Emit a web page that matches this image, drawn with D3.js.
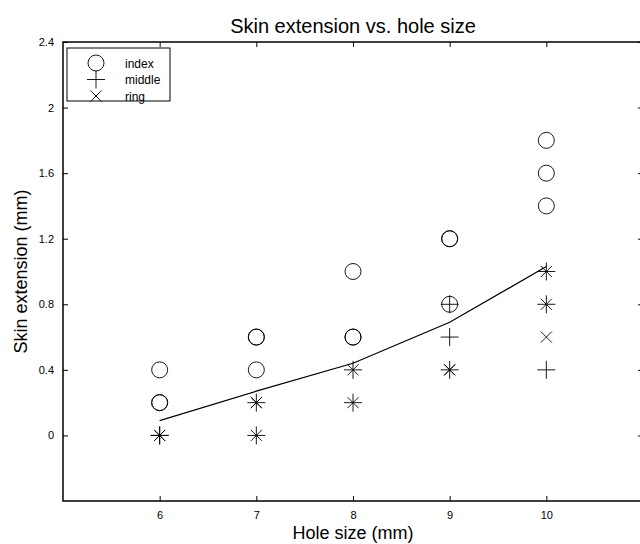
<!DOCTYPE html>
<html>
<head>
<meta charset="utf-8">
<script src="https://cdn.jsdelivr.net/npm/d3@7/dist/d3.min.js"></script>
<style>
  body { margin: 0; background: #fff; }
  svg { font-family: "Liberation Sans", Arial, sans-serif; }
</style>
</head>
<body>
<script>
// hole sizes (mm)
var holeSizes = [6, 7, 8, 9, 10];
// skin extension samples per hole size, one list per finger
var indexVals  = [[0.4, 0.2, 0.2], [0.6, 0.6, 0.4], [1.0, 0.6, 0.6], [1.2, 1.2, 0.8], [1.8, 1.6, 1.4]];
var middleVals = [[0, 0], [0.2, 0], [0.4, 0.2], [0.8, 0.6, 0.4], [1.0, 0.8, 0.4]];
var ringVals   = [[0, 0], [0.2, 0.2, 0], [0.4, 0.2], [0.4, 0.4], [1.0, 0.8, 0.6]];
// mean line
var meanVals = [0.09, 0.27, 0.44, 0.69, 1.03];
var yTicks = [0, 0.4, 0.8, 1.2, 1.6, 2, 2.4];
var legendNames = ["index", "middle", "ring"];

var width = 640, height = 544;
var margin = {top: 42, right: -3, bottom: 43, left: 63};
var plotW = width - margin.left - margin.right;
var plotH = height - margin.top - margin.bottom;

var svg = d3.select("body").append("svg")
  .attr("width", width).attr("height", height);

var g = svg.append("g")
  .attr("transform", "translate(" + margin.left + "," + margin.top + ")");

var xScale = d3.scaleLinear().domain([5, 11]).range([0, plotW]);
var yScale = d3.scaleLinear().domain([-0.4, 2.4]).range([plotH, 0]);

function plain(d) { return String(+d.toFixed(1)); }

// axes (ticks pointing inward, matlab style)
var xAxis = d3.axisBottom(xScale).tickValues(holeSizes).tickSize(-5).tickPadding(10).tickFormat(plain);
var yAxis = d3.axisLeft(yScale).tickValues(yTicks).tickSize(-5).tickPadding(9).tickFormat(plain);

g.append("g").attr("transform", "translate(0," + plotH + ")").call(xAxis);
g.append("g").call(yAxis);
g.append("g").call(d3.axisTop(xScale).tickValues(holeSizes).tickSize(-5).tickFormat(""));
g.append("g").attr("transform", "translate(" + plotW + ",0)")
  .call(d3.axisRight(yScale).tickValues(yTicks).tickSize(-5).tickFormat(""));

g.selectAll(".domain").remove();
g.selectAll(".tick line").attr("stroke", "#000").attr("stroke-width", 1);
g.selectAll(".tick text").attr("font-size", 11).attr("fill", "#000")
  .attr("font-family", "Liberation Sans, Arial, sans-serif");

g.append("rect")
  .attr("x", 0).attr("y", 0).attr("width", plotW).attr("height", plotH)
  .attr("fill", "none").attr("stroke", "#000").attr("stroke-width", 1.5);

// marker shapes
function drawMarker(sel, kind) {
  if (kind === "index") {
    sel.append("circle").attr("r", 8).attr("fill", "none");
  } else if (kind === "middle") {
    sel.append("path").attr("d", "M-9,0H9M0,-9V9").attr("fill", "none");
  } else {
    sel.append("path").attr("d", "M-5.5,-5.5L5.5,5.5M-5.5,5.5L5.5,-5.5").attr("fill", "none");
  }
  sel.attr("stroke", "#000").attr("stroke-width", 0.9);
}

function flatten(vals) {
  var out = [];
  vals.forEach(function(list, i) {
    list.forEach(function(v) { out.push({x: holeSizes[i], y: v}); });
  });
  return out;
}

var series = [
  {name: "index", pts: flatten(indexVals)},
  {name: "middle", pts: flatten(middleVals)},
  {name: "ring", pts: flatten(ringVals)}
];

series.forEach(function(s) {
  g.selectAll(".m-" + s.name)
    .data(s.pts)
    .enter().append("g")
    .attr("class", "m-" + s.name)
    .attr("transform", function(d) { return "translate(" + xScale(d.x) + "," + yScale(d.y) + ")"; })
    .each(function() { drawMarker(d3.select(this), s.name); });
});

// mean line
var line = d3.line()
  .x(function(d, i) { return xScale(holeSizes[i]); })
  .y(function(d) { return yScale(d); });
g.append("path").datum(meanVals)
  .attr("d", line).attr("fill", "none").attr("stroke", "#000").attr("stroke-width", 1.2);

// legend
var lg = g.append("g").attr("transform", "translate(4,6)");
lg.append("rect").attr("width", 103).attr("height", 53)
  .attr("fill", "#fff").attr("stroke", "#000").attr("stroke-width", 1);
legendNames.forEach(function(n, i) {
  var row = lg.append("g").attr("transform", "translate(29," + (15 + i * 16.5) + ")");
  drawMarker(row.append("g"), n);
  row.append("text").attr("x", 29).attr("y", 4.5).attr("font-size", 12).text(n);
});

// titles
svg.append("text").attr("x", margin.left + plotW / 2).attr("y", 33)
  .attr("text-anchor", "middle").attr("font-size", 20).text("Skin extension vs. hole size");
svg.append("text").attr("x", margin.left + plotW / 2).attr("y", 539)
  .attr("text-anchor", "middle").attr("font-size", 18).text("Hole size (mm)");
svg.append("text")
  .attr("transform", "translate(27," + (margin.top + plotH / 2) + ") rotate(-90)")
  .attr("text-anchor", "middle").attr("font-size", 18).text("Skin extension (mm)");
</script>
</body>
</html>
